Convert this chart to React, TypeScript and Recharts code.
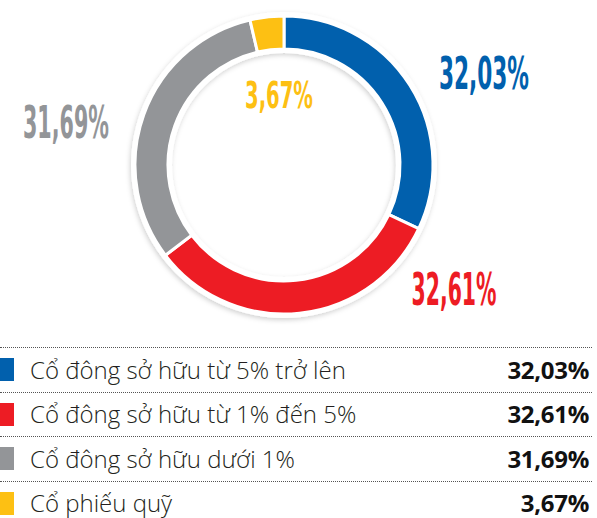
import { PieChart, Pie, Cell } from "recharts";

const groups = [
  "Cổ đông sở hữu từ 5% trở lên",
  "Cổ đông sở hữu từ 1% đến 5%",
  "Cổ đông sở hữu dưới 1%",
  "Cổ phiếu quỹ",
];
const shares = [32.03, 32.61, 31.69, 3.67];
const shareLabels = ["32,03%", "32,61%", "31,69%", "3,67%"];

const colors = ["#0160AD", "#ED1C24", "#939598", "#FDC013"];

// label placement relative to the ring centre (dx, baseline dy, text width, size)
const labelPlace = [
  { dx: 200, dy: -76, w: 90, size: 45 },
  { dx: 170, dy: 140, w: 85, size: 44 },
  { dx: -218, dy: -27, w: 86, size: 45 },
  { dx: -5, dy: -57, w: 68, size: 38 },
];

const track = [{ name: "track", value: 1 }];

const chartData = groups.map((g, i) => ({ name: g, value: shares[i] }));

const renderLabel = (props: any) => {
  const { cx, cy, index } = props;
  const p = labelPlace[index];
  return (
    <text
      key={"lbl" + index}
      x={cx + p.dx}
      y={cy + p.dy}
      textAnchor="middle"
      fill={colors[index]}
      fontFamily="'Liberation Sans Narrow', 'DejaVu Sans Condensed', sans-serif"
      fontWeight={700}
      fontSize={p.size}
      textLength={p.w}
      lengthAdjust="spacingAndGlyphs"
    >
      {shareLabels[index]}
    </text>
  );
};

export default function App() {
  return (
    <div
      style={{
        position: "absolute",
        left: 0,
        top: 0,
        width: 597,
        height: 518,
        background: "#fff",
        overflow: "hidden",
        fontFamily: "'Open Sans', 'Noto Sans', sans-serif",
      }}
    >
      <PieChart width={597} height={330} margin={{ top: 0, right: 0, bottom: 0, left: 0 }}>
        <defs>
          <filter id="soft" x="-20%" y="-20%" width="140%" height="140%">
            <feDropShadow dx="-1" dy="2" stdDeviation="2.5" floodColor="#000" floodOpacity="0.18" />
          </filter>
        </defs>
        <Pie
          data={track}
          dataKey="value"
          cx={284}
          cy={165}
          innerRadius={112}
          outerRadius={153}
          startAngle={90}
          endAngle={-270}
          fill="#ffffff"
          stroke="none"
          isAnimationActive={false}
          style={{ filter: "url(#soft)" }}
        />
        <Pie
          data={chartData}
          dataKey="value"
          cx={284}
          cy={165}
          innerRadius={116}
          outerRadius={149}
          startAngle={90}
          endAngle={-270}
          stroke="#ffffff"
          strokeWidth={3}
          label={renderLabel}
          labelLine={false}
          isAnimationActive={false}
        >
          {chartData.map((d, i) => (
            <Cell key={d.name} fill={colors[i]} />
          ))}
        </Pie>
      </PieChart>

      <div style={{ position: "absolute", left: 0, top: 347, width: 592 }}>
        {groups.map((g, i) => (
          <div
            key={g}
            style={{
              position: "relative",
              height: 44.5,
              boxSizing: "border-box",
              borderTop: "1px dotted #555",
              display: "flex",
              alignItems: "center",
            }}
          >
            <div style={{ width: 14, height: 23, background: colors[i], marginLeft: 0 }} />
            <div
              style={{
                marginLeft: 16,
                fontSize: 24,
                lineHeight: "26px",
                fontWeight: 300,
                color: "#231F20",
                whiteSpace: "nowrap",
              }}
            >
              {g}
            </div>
            <div
              style={{
                position: "absolute",
                right: 3,
                fontSize: 24,
                lineHeight: "26px",
                fontWeight: 700,
                color: "#111",
                letterSpacing: -0.3,
              }}
            >
              {shareLabels[i]}
            </div>
          </div>
        ))}
      </div>
    </div>
  );
}
